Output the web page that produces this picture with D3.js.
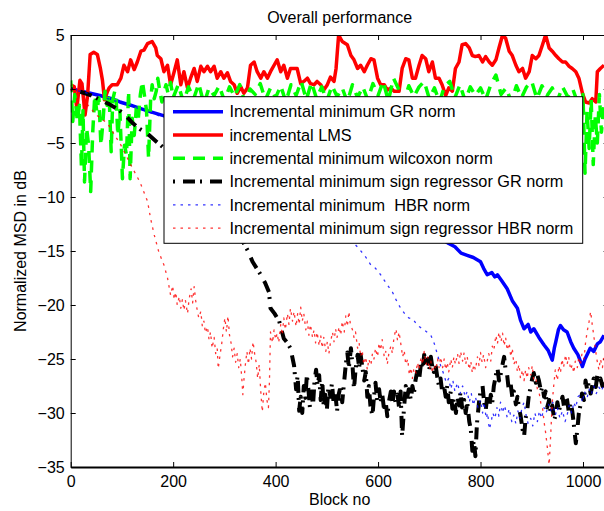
<!DOCTYPE html>
<html><head><meta charset="utf-8">
<script src="https://cdn.jsdelivr.net/npm/d3@7"></script>
<style>
body{margin:0;background:#fff}
text{font-family:"Liberation Sans",Arial,Helvetica,sans-serif;fill:#000}
</style>
</head><body>
<svg id="chart" width="604" height="511"></svg>
<script>
// ---- data: [block number, normalized MSD in dB] ----
const xTicks = [0, 200, 400, 600, 800, 1000];
const yTicks = [5, 0, -5, -10, -15, -20, -25, -30, -35];

const seriesNames = [
  "Incremental minimum GR norm",
  "incremental LMS",
  "incremental minimum wilcoxon norm",
  "Incremental minimum sign regressor GR norm",
  "Incremental minimum  HBR norm",
  "Incremental minimum sign regressor HBR norm"
];

const grNorm = [[0,0],[12,-0.1],[30,-0.3],[57,-0.6],[80,-0.9],[96,-1.2],[117,-1.5],[135,-1.8],[155,-2.1],[176,-2.4],[220,-3.0],[280,-3.9],[340,-4.9],[400,-6.0],[460,-7.3],[520,-8.6],[580,-10.0],[640,-11.6],[700,-13.2],[738,-14.3],[750,-14.6],[762,-15.2],[774,-15.4],[786,-15.6],[800,-16.0],[806,-16.6],[813,-17.2],[822,-17.0],[828,-17.4],[833,-17.2],[842,-17.8],[852,-18.5],[862,-19.6],[872,-20.3],[878,-21.4],[885,-22.2],[893,-21.8],[898,-22.5],[904,-22.2],[914,-23.0],[924,-23.7],[932,-24.2],[940,-25.1],[944,-24.0],[947,-23.4],[952,-22.3],[956,-21.9],[962,-22.3],[969,-22.5],[976,-23.4],[982,-24.0],[990,-24.6],[999,-25.7],[1004,-25.0],[1008,-24.6],[1014,-24.0],[1021,-24.3],[1028,-23.6],[1034,-23.4],[1041,-22.8]];

const lms = [[0,0.4],[7,0.2],[12,-1.8],[18,0.8],[22,0.5],[28,-2.4],[33,-0.6],[38,3.2],[45,3.4],[52,3.2],[58,1.9],[62,0.8],[66,-1.0],[72,-0.2],[75,0.1],[81,0.4],[91,0.4],[98,1.0],[104,2.2],[111,1.6],[117,2.7],[124,1.8],[130,2.5],[137,3.5],[143,3.6],[150,4.2],[159,4.4],[166,3.8],[169,3.1],[176,2.8],[182,1.6],[189,2.2],[195,0.4],[202,1.6],[208,2.7],[215,0.4],[221,1.6],[228,0.1],[234,1.0],[241,1.9],[247,0.7],[254,2.1],[260,1.6],[267,2.1],[273,1.6],[280,2.1],[286,1.0],[293,1.6],[299,1.0],[306,1.5],[312,0.7],[319,0.4],[325,-0.4],[332,0.2],[338,-0.4],[345,0.1],[351,2.2],[358,2.5],[364,1.6],[371,1.0],[377,1.6],[384,1.0],[390,1.6],[397,2.2],[403,2.7],[410,1.6],[416,2.2],[423,1.0],[429,1.9],[436,1.9],[442,1.9],[449,0.5],[455,0.7],[462,1.0],[468,0.5],[475,0.4],[481,0.7],[488,0.4],[494,-0.1],[501,0.4],[507,1.1],[514,0.7],[518,1.9],[523,5.0],[530,4.4],[540,4.1],[547,3.1],[553,2.7],[560,1.9],[566,2.2],[573,1.6],[579,2.2],[586,2.8],[592,2.7],[599,1.0],[605,0.4],[612,0.4],[618,-0.1],[625,0.1],[631,-0.2],[641,-0.2],[647,1.9],[654,2.8],[660,2.7],[667,1.0],[673,1.0],[680,2.2],[686,3.1],[693,2.8],[699,1.6],[706,2.5],[712,1.0],[719,1.0],[725,0.4],[732,-0.6],[738,0.1],[745,-0.2],[751,1.9],[758,2.5],[764,4.1],[771,4.2],[778,3.8],[784,3.1],[790,3.0],[797,3.1],[804,2.5],[810,3.0],[817,2.5],[823,2.2],[830,2.7],[836,3.8],[843,5.0],[849,4.7],[856,3.5],[862,3.1],[869,2.2],[875,1.6],[882,1.9],[888,1.0],[895,1.6],[901,3.1],[908,2.8],[914,3.1],[921,4.1],[927,5.0],[934,3.8],[940,3.5],[947,3.1],[953,2.8],[960,2.5],[966,2.5],[973,2.1],[979,1.9],[986,1.6],[992,1.0],[999,-0.4],[1005,-1.2],[1012,-1.3],[1018,-0.9],[1025,-1.2],[1028,1.6],[1034,1.9],[1041,2.2]];

const wilcoxon = [[0,0.8],[4,-3.0],[8,-0.5],[13,-3.0],[17,-1.5],[21,-7.3],[24,-2.0],[27,-8.6],[31,-3.6],[35,-5.2],[39,-9.5],[43,-4.0],[47,-0.6],[51,-2.1],[55,-0.8],[59,-5.2],[63,-3.0],[67,-0.2],[71,-1.5],[75,-0.5],[79,-5.8],[82,-1.0],[86,-0.2],[89,-1.2],[92,-4.3],[96,-2.0],[101,-8.3],[105,-5.2],[109,-6.1],[113,-0.2],[116,-8.3],[120,-2.7],[124,-4.3],[128,-1.8],[132,-2.7],[136,-0.5],[140,0.7],[144,-0.6],[148,-2.0],[152,-6.4],[156,-1.0],[159,0.4],[163,-0.9],[167,-0.2],[170,1.0],[174,-0.2],[178,-1.2],[182,-0.3],[186,0.4],[190,-0.4],[195,0.6],[200,-0.8],[210,0.4],[220,-1.2],[230,0.2],[240,-0.9],[250,0.5],[260,-1.4],[270,0.1],[280,-0.6],[290,0.3],[300,-1.1],[310,0.2],[320,-0.7],[330,0.4],[340,-1.3],[350,0.0],[360,-0.5],[370,0.5],[380,-1.0],[390,0.1],[400,-0.8],[410,0.3],[420,-1.2],[430,0.4],[440,-0.6],[450,0.7],[460,-1.0],[470,0.6],[480,-0.9],[490,0.2],[500,-1.1],[510,0.3],[520,-0.7],[530,0.1],[540,-1.2],[550,0.4],[560,-0.8],[570,0.2],[580,-1.0],[590,0.5],[600,-0.6],[610,0.7],[620,-1.1],[630,1.0],[640,0.0],[650,-1.3],[660,0.3],[670,-0.7],[680,0.2],[690,0.7],[700,-0.9],[710,0.1],[720,-1.2],[730,0.3],[740,0.7],[750,-0.8],[760,0.4],[770,-1.1],[780,0.2],[790,-0.6],[800,0.1],[810,-1.0],[820,0.4],[830,1.3],[840,-0.5],[850,0.1],[860,-1.2],[870,0.3],[880,-0.8],[890,0.2],[900,0.7],[910,-0.9],[920,0.3],[930,-0.6],[940,0.1],[950,-1.1],[960,0.2],[970,-0.7],[980,0.0],[990,-1.3],[995,-4.5],[1000,-0.5],[1004,-7.8],[1008,-2.0],[1012,-5.5],[1016,-1.0],[1020,-7.0],[1024,-2.5],[1028,-5.0],[1032,-0.5],[1036,-4.0],[1041,-1.5]];

const signGr = [[0,0],[22,-0.3],[40,-0.6],[57,-1.0],[75,-1.4],[93,-1.9],[108,-2.5],[122,-3.2],[135,-3.7],[149,-4.1],[168,-4.9],[200,-6.2],[240,-8.0],[280,-10.2],[310,-12.0],[338,-14.3],[346,-15.0],[355,-16.0],[363,-16.6],[371,-17.2],[380,-18.0],[387,-18.8],[390,-20.3],[398,-20.8],[407,-21.5],[416,-23.1],[423,-23.5],[429,-24.0],[436,-25.6],[440,-27.8],[443,-26.5],[446,-29.8],[449,-28.5],[452,-30.0],[455,-27.5],[458,-28.6],[461,-26.5],[464,-27.8],[467,-29.5],[470,-28.0],[473,-29.3],[476,-27.0],[479,-26.0],[482,-27.5],[485,-26.5],[488,-28.8],[491,-27.0],[494,-29.5],[497,-28.3],[500,-29.8],[503,-27.5],[507,-28.5],[510,-27.2],[513,-29.0],[516,-28.0],[520,-29.8],[523,-28.3],[527,-27.5],[530,-29.0],[534,-27.0],[537,-25.5],[540,-24.4],[543,-25.8],[547,-24.0],[550,-25.5],[553,-27.8],[556,-26.0],[560,-24.6],[563,-25.8],[566,-24.6],[570,-26.0],[573,-27.0],[576,-26.2],[579,-28.5],[582,-27.5],[585,-29.3],[589,-30.3],[592,-28.5],[595,-27.2],[598,-28.8],[602,-27.8],[605,-29.0],[608,-28.2],[612,-29.8],[615,-29.0],[618,-30.3],[621,-29.0],[625,-28.0],[628,-29.2],[631,-28.0],[634,-29.0],[638,-28.3],[641,-29.5],[644,-28.0],[647,-32.2],[650,-30.0],[654,-27.5],[657,-28.5],[660,-27.8],[664,-28.8],[667,-27.5],[670,-28.2],[673,-27.0],[677,-26.0],[680,-27.0],[684,-25.3],[687,-26.0],[690,-24.6],[693,-25.8],[697,-25.0],[700,-26.0],[703,-24.8],[706,-25.8],[709,-26.2],[712,-25.5],[716,-26.8],[719,-27.5],[722,-26.8],[725,-28.0],[728,-27.3],[732,-28.5],[735,-27.5],[738,-29.0],[742,-28.0],[745,-29.6],[748,-28.6],[752,-30.0],[755,-28.5],[758,-29.3],[761,-28.0],[764,-29.5],[768,-28.8],[771,-30.0],[774,-29.0],[778,-30.8],[781,-31.5],[784,-33.5],[787,-32.5],[790,-34.0],[793,-31.0],[797,-29.0],[800,-28.0],[804,-27.5],[807,-29.0],[810,-29.8],[813,-28.5],[817,-29.5],[820,-28.3],[823,-29.0],[826,-27.5],[830,-26.5],[833,-25.8],[836,-27.0],[839,-26.5],[843,-25.5],[846,-24.8],[849,-26.0],[852,-26.5],[855,-27.8],[858,-27.0],[862,-28.5],[865,-28.0],[869,-29.2],[872,-28.5],[875,-29.5],[878,-30.2],[882,-31.5],[885,-32.2],[888,-30.5],[891,-29.8],[894,-28.5],[897,-27.8],[901,-26.8],[904,-26.3],[908,-27.2],[911,-26.5],[914,-27.0],[918,-28.0],[921,-27.5],[924,-28.5],[927,-28.0],[930,-29.5],[934,-28.8],[937,-30.0],[940,-29.3],[944,-30.6],[947,-30.2],[950,-29.0],[953,-29.8],[956,-29.3],[960,-28.5],[963,-29.4],[966,-28.4],[969,-28.8],[972,-29.8],[976,-29.0],[979,-29.8],[982,-31.0],[986,-32.8],[989,-31.5],[992,-30.0],[995,-29.3],[998,-28.2],[1002,-28.8],[1005,-27.0],[1008,-27.8],[1011,-27.2],[1015,-28.2],[1018,-27.5],[1021,-26.8],[1025,-27.6],[1028,-26.5],[1031,-27.3],[1034,-26.8],[1038,-27.5],[1041,-27.0]];

const hbr = [[0,0],[60,-0.7],[120,-1.6],[180,-2.6],[250,-4.0],[320,-5.7],[380,-7.4],[440,-9.3],[500,-11.6],[540,-13.6],[563,-14.8],[575,-15.5],[586,-16.3],[595,-16.6],[605,-17.2],[616,-18.0],[628,-18.8],[636,-19.6],[644,-20.3],[652,-20.8],[660,-21.2],[668,-21.3],[677,-21.9],[690,-22.3],[703,-22.8],[710,-23.6],[716,-24.6],[722,-25.6],[729,-26.5],[733,-27.2],[738,-26.8],[742,-27.8],[746,-27.0],[750,-28.0],[755,-27.2],[760,-28.2],[765,-27.5],[770,-28.5],[774,-28.0],[778,-29.0],[782,-28.2],[786,-29.3],[790,-28.5],[795,-29.5],[800,-28.8],[804,-30.0],[807,-29.0],[811,-30.5],[814,-30.0],[817,-31.5],[820,-31.0],[824,-30.0],[828,-30.5],[832,-29.5],[836,-30.3],[839,-29.0],[843,-30.0],[847,-29.3],[852,-30.4],[856,-29.6],[861,-30.8],[865,-30.2],[869,-31.0],[873,-29.8],[877,-30.5],[881,-29.5],[885,-29.0],[889,-30.2],[893,-31.0],[898,-30.5],[902,-31.2],[906,-30.0],[911,-30.8],[915,-29.8],[919,-30.5],[924,-29.5],[928,-30.0],[933,-29.2],[937,-29.8],[941,-29.0],[946,-30.2],[950,-29.5],[955,-30.5],[960,-29.8],[965,-30.8],[969,-30.2],[973,-29.3],[978,-30.0],[982,-29.0],[986,-29.5],[990,-28.5],[995,-28.3],[999,-29.0],[1003,-28.0],[1008,-28.6],[1012,-27.8],[1016,-28.3],[1021,-27.5],[1026,-28.2],[1031,-27.6],[1036,-28.0],[1041,-27.3]];

const signHbr = [[0,0],[25,-1.0],[50,-2.4],[72,-3.2],[85,-4.2],[98,-5.2],[117,-7.0],[135,-8.6],[145,-9.8],[150,-10.4],[156,-12.0],[163,-13.5],[172,-15.1],[182,-16.3],[189,-17.5],[195,-19.1],[199,-18.2],[202,-19.5],[205,-18.8],[208,-20.0],[212,-19.2],[215,-20.3],[218,-19.5],[221,-20.5],[224,-19.6],[228,-20.8],[231,-19.5],[235,-18.5],[238,-19.8],[241,-18.3],[244,-19.6],[247,-20.5],[250,-21.2],[254,-20.6],[257,-22.0],[260,-21.5],[263,-22.6],[267,-22.0],[270,-23.2],[273,-22.5],[276,-24.0],[280,-23.0],[283,-24.5],[286,-24.0],[288,-25.9],[291,-24.8],[295,-23.5],[298,-22.2],[301,-21.2],[304,-22.5],[307,-21.0],[310,-22.8],[313,-23.5],[316,-24.8],[319,-24.0],[322,-25.3],[325,-24.5],[328,-25.8],[331,-25.0],[334,-26.8],[336,-28.3],[338,-27.0],[341,-25.5],[344,-24.3],[347,-25.5],[350,-24.0],[353,-25.0],[356,-23.4],[359,-24.5],[362,-25.3],[365,-26.8],[368,-25.5],[371,-28.0],[374,-29.9],[377,-28.0],[380,-27.2],[383,-28.8],[386,-29.5],[388,-27.0],[390,-22.5],[394,-23.5],[397,-22.3],[400,-23.2],[403,-22.6],[406,-23.5],[410,-21.8],[413,-22.8],[416,-21.2],[419,-22.3],[423,-20.8],[426,-21.8],[429,-20.3],[433,-21.5],[436,-20.6],[440,-22.0],[443,-20.8],[446,-21.8],[449,-20.2],[452,-21.5],[455,-20.8],[459,-22.3],[462,-21.5],[465,-22.8],[468,-21.8],[472,-23.0],[475,-22.3],[478,-23.5],[481,-22.5],[485,-23.8],[488,-22.8],[491,-24.0],[494,-23.0],[498,-24.3],[501,-23.4],[504,-24.5],[507,-23.5],[511,-22.5],[514,-23.4],[517,-22.2],[520,-23.0],[524,-22.0],[527,-22.8],[530,-21.5],[534,-22.5],[537,-21.0],[540,-22.0],[543,-20.6],[546,-21.8],[550,-22.3],[553,-23.0],[556,-22.5],[560,-24.0],[563,-23.5],[566,-24.8],[569,-24.2],[572,-25.5],[576,-24.8],[579,-26.0],[582,-25.0],[586,-25.6],[589,-24.5],[592,-25.0],[595,-24.0],[599,-24.8],[602,-23.5],[605,-24.2],[608,-23.2],[612,-24.8],[615,-24.3],[618,-25.5],[621,-24.5],[625,-23.8],[628,-24.5],[631,-23.0],[635,-22.2],[638,-23.3],[641,-22.5],[645,-23.8],[648,-24.8],[651,-24.2],[654,-25.5],[658,-25.0],[661,-26.5],[664,-25.8],[667,-26.8],[670,-25.8],[674,-26.3],[677,-25.3],[680,-26.0],[684,-24.8],[687,-25.5],[690,-24.3],[694,-25.5],[697,-24.8],[700,-26.0],[703,-25.2],[706,-26.3],[709,-25.5],[713,-26.0],[716,-25.0],[719,-25.8],[722,-24.8],[726,-25.8],[729,-25.0],[732,-26.0],[735,-25.3],[738,-26.2],[742,-25.0],[745,-25.8],[748,-24.8],[751,-25.5],[755,-24.5],[758,-25.4],[761,-24.3],[765,-25.2],[768,-24.4],[771,-25.5],[774,-24.8],[778,-26.0],[781,-25.2],[784,-26.3],[787,-25.5],[790,-26.0],[794,-24.8],[797,-25.6],[800,-24.4],[803,-25.3],[806,-24.6],[810,-25.8],[813,-25.2],[816,-24.5],[820,-25.2],[823,-23.8],[826,-24.2],[830,-22.8],[833,-23.6],[836,-22.5],[840,-23.4],[843,-22.6],[846,-23.8],[849,-23.0],[852,-24.2],[856,-23.5],[859,-24.8],[862,-24.0],[865,-25.5],[869,-25.0],[872,-26.2],[875,-25.5],[878,-26.8],[882,-26.0],[885,-27.0],[888,-26.0],[891,-26.8],[894,-25.8],[898,-26.5],[901,-25.6],[904,-27.0],[908,-26.8],[911,-27.8],[914,-28.0],[918,-29.2],[921,-29.5],[924,-30.8],[927,-31.8],[930,-33.0],[934,-34.8],[937,-32.0],[940,-29.0],[943,-27.4],[946,-26.0],[950,-27.0],[953,-25.6],[956,-26.3],[959,-25.0],[962,-25.8],[966,-24.6],[969,-25.5],[972,-24.8],[976,-26.0],[979,-25.5],[982,-26.3],[985,-25.2],[989,-25.8],[992,-24.8],[995,-25.6],[998,-24.5],[1002,-25.0],[1005,-23.5],[1008,-22.5],[1012,-21.5],[1015,-20.6],[1018,-21.8],[1021,-22.8],[1024,-24.0],[1027,-25.0],[1031,-26.0],[1034,-25.0],[1038,-25.8],[1041,-24.6]];

// ---- styles, in plotting order ----
const styles = [
  {data: grNorm,   color: "#0000ff", width: 3.5, dash: null},
  {data: lms,      color: "#ff0000", width: 3.5, dash: null},
  {data: wilcoxon, color: "#00ff00", width: 3.5, dash: "12,8"},
  {data: signGr,   color: "#000000", width: 4,   dash: "2,8,12,5"},
  {data: hbr,      color: "#0000ff", width: 1.3, dash: "2.5,5", opacity: 0.8},
  {data: signHbr,  color: "#ff0000", width: 1.3, dash: "2.5,5", opacity: 0.8}
];

const svg = d3.select("#chart");
const x = d3.scaleLinear().domain([0, 1050]).range([70.7, 608.6]);
const y = d3.scaleLinear().domain([-35, 5]).range([467, 35]);

svg.append("defs").append("clipPath").attr("id", "plotClip")
  .append("rect")
  .attr("x", x(0)).attr("y", y(5))
  .attr("width", x(1050) - x(0)).attr("height", y(-35) - y(5));

// series
const line = d3.line().x(d => x(d[0])).y(d => y(d[1]));
const lines = svg.append("g").attr("clip-path", "url(#plotClip)");
styles.forEach(s => {
  lines.append("path")
    .attr("d", line(s.data))
    .attr("fill", "none")
    .attr("stroke", s.color)
    .attr("stroke-width", s.width)
    .attr("stroke-opacity", s.opacity || 1)
    .attr("stroke-linejoin", "round")
    .attr("stroke-dasharray", s.dash);
});

// axes (ticks point inward, box style)
const fontSize = 16;
const bottomAxis = d3.axisBottom(x).tickValues(xTicks).tickFormat(d3.format("d"))
  .tickSizeInner(-5).tickSizeOuter(0).tickPadding(8.5);
const gB = svg.append("g").attr("transform", `translate(0,${y(-35)})`).call(bottomAxis);
const leftAxis = d3.axisLeft(y).tickValues(yTicks).tickSizeInner(-5).tickSizeOuter(0).tickPadding(6)
  .tickFormat(d => d < 0 ? "\u2212" + Math.abs(d) : d);
const gL = svg.append("g").attr("transform", `translate(${x(0)},0)`).call(leftAxis);
const topAxis = d3.axisTop(x).tickValues(xTicks).tickSizeInner(-5).tickSizeOuter(0).tickFormat("");
const gT = svg.append("g").attr("transform", `translate(0,${y(5)})`).call(topAxis);
const rightAxis = d3.axisRight(y).tickValues(yTicks).tickSizeInner(-5).tickSizeOuter(0).tickFormat("");
const gR = svg.append("g").attr("transform", `translate(${x(1050)},0)`).call(rightAxis);

[gB, gL, gT, gR].forEach(g => {
  g.selectAll("text").attr("font-size", fontSize).attr("font-family", null).style("fill", "#000");
  g.selectAll("line").attr("stroke", "#000").attr("stroke-width", 1);
  g.select(".domain").attr("stroke", "#000").attr("stroke-width", 1);
});
gB.select(".domain").attr("stroke-width", 2);

// title and axis labels
svg.append("text").attr("x", (x(0) + x(1050)) / 2).attr("y", 22.5)
  .attr("text-anchor", "middle").attr("font-size", fontSize).text("Overall performance");
svg.append("text").attr("x", (x(0) + x(1050)) / 2).attr("y", 505)
  .attr("text-anchor", "middle").attr("font-size", fontSize).text("Block no");
svg.append("text").attr("transform", `translate(25.5,${(y(5) + y(-35)) / 2}) rotate(-90)`)
  .attr("text-anchor", "middle").attr("font-size", fontSize).text("Normalized MSD in dB");

// legend
const lg = svg.append("g");
lg.append("rect").attr("x", 164).attr("y", 96.7).attr("width", 418.7).attr("height", 146.6)
  .attr("fill", "#fff").attr("stroke", "#000").attr("stroke-width", 1);
styles.forEach((s, i) => {
  const cy = 111.7 + i * 23.3;
  lg.append("line").attr("x1", 173).attr("x2", 223).attr("y1", cy).attr("y2", cy)
    .attr("stroke", s.color).attr("stroke-width", s.width)
    .attr("stroke-opacity", s.opacity || 1)
    .attr("stroke-dasharray", s.dash);
  lg.append("text").attr("x", 229.5).attr("y", cy + 5.7).attr("font-size", 16.3)
    .attr("xml:space", "preserve").style("white-space", "pre")
    .text(seriesNames[i]);
});
</script>
</body></html>
